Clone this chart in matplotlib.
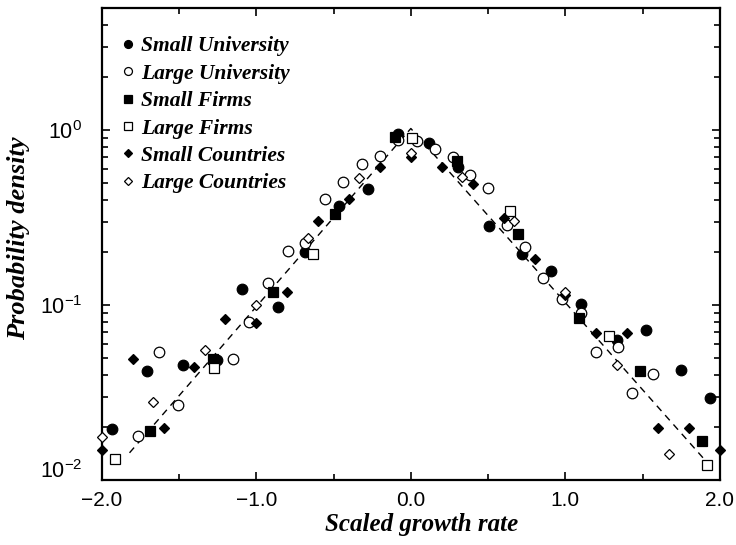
import math
import matplotlib
matplotlib.use("Agg")
import matplotlib.pyplot as plt
from matplotlib.ticker import LogLocator, FixedLocator, FuncFormatter, NullFormatter

plt.rcParams['mathtext.fontset'] = 'custom'
plt.rcParams['mathtext.rm'] = 'Liberation Sans'
plt.rcParams['mathtext.it'] = 'Liberation Sans:italic'

# ---------------- data ----------------
su_x = [-1.935, -1.708, -1.472, -1.256, -1.094, -0.862, -0.684, -0.462, -0.275, -0.085,
        0.120, 0.303, 0.508, 0.717, 0.907, 1.098, 1.332, 1.521, 1.746, 1.935]
su_y = [0.0195, 0.0421, 0.0452, 0.0485, 0.123, 0.0975, 0.200, 0.368, 0.460, 0.949,
        0.839, 0.617, 0.283, 0.196, 0.156, 0.101, 0.0633, 0.0715, 0.0425, 0.0295]

lu_x = [-1.767, -1.627, -1.504, -1.148, -1.045, -0.922, -0.796, -0.684, -0.555, -0.440,
        -0.314, -0.199, -0.081, 0.038, 0.157, 0.271, 0.383, 0.501, 0.620, 0.739,
        0.857, 0.976, 1.101, 1.196, 1.342, 1.429, 1.565]
lu_y = [0.0179, 0.0537, 0.0268, 0.0489, 0.0803, 0.134, 0.204, 0.227, 0.403, 0.507,
        0.641, 0.715, 0.877, 0.869, 0.774, 0.704, 0.553, 0.464, 0.287, 0.215,
        0.143, 0.108, 0.0897, 0.0537, 0.0578, 0.0313, 0.0403]

sf_x = [-1.687, -1.281, -0.893, -0.490, -0.102, 0.300, 0.691, 1.090, 1.483, 1.885]
sf_y = [0.0191, 0.0489, 0.118, 0.331, 0.916, 0.663, 0.255, 0.0839, 0.0420, 0.0168]

lf_x = [-1.913, -1.273, -0.635, 0.006, 0.642, 1.280, 1.914]
lf_y = [0.0131, 0.0435, 0.196, 0.906, 0.344, 0.0665, 0.0122]

sc_x = [-2.0, -1.8, -1.6, -1.4, -1.2, -1.0, -0.8, -0.6, -0.4, -0.2, 0.0,
        0.2, 0.4, 0.6, 0.8, 1.0, 1.2, 1.4, 1.6, 1.8, 2.0]
sc_y = [0.0148, 0.0489, 0.0197, 0.0441, 0.0834, 0.0786, 0.118, 0.303, 0.403, 0.612, 0.705,
        0.617, 0.490, 0.313, 0.182, 0.114, 0.0689, 0.0689, 0.0197, 0.0197, 0.0148]

lc_x = [-2.0, -1.667, -1.333, -1.0, -0.667, -0.333, 0.0, 0.333, 0.667, 1.0, 1.333, 1.667]
lc_y = [0.0175, 0.0278, 0.0553, 0.100, 0.242, 0.530, 0.736, 0.537, 0.302, 0.118, 0.0454, 0.0140]

fit_x = [-1.82, 0.0, 1.92]
fit_y = [0.0143, 1.02, 0.0125]

labels = ["Small University", "Large University", "Small Firms",
          "Large Firms", "Small Countries", "Large Countries"]
xtick_vals = [-2.0, -1.0, 0.0, 1.0, 2.0]
ytick_vals = [0.01, 0.1, 1.0]

# ---------------- figure ----------------
fig = plt.figure(figsize=(7.36, 5.45), dpi=100)
ax = fig.add_axes([101.7/736, 1-480/545, (720-101.7)/736, (480-8.3)/545])

ax.plot(fit_x, fit_y, color='black', lw=1.0, ls=(0, (5, 4)), zorder=1)

mk = dict(ls='none', mec='black', mew=0.9, clip_on=False, zorder=3)
h1, = ax.plot(su_x, su_y, marker='o', ms=7.6, mfc='black', **mk)
h2, = ax.plot(lu_x, lu_y, marker='o', ms=7.6, mfc='white', **mk)
h3, = ax.plot(sf_x, sf_y, marker='s', ms=7.0, mfc='black', **mk)
h4, = ax.plot(lf_x, lf_y, marker='s', ms=7.0, mfc='white', **mk)
h5, = ax.plot(sc_x, sc_y, marker='D', ms=5.3, mfc='black', **mk)
h6, = ax.plot(lc_x, lc_y, marker='D', ms=5.3, mfc='white', **mk)

ax.set_yscale('log')
ax.set_xlim(-2.0, 2.0)
ax.set_ylim(0.01, 4.96)

def ylab(v):
    return r"$\mathregular{10^{%d}}$" % round(math.log10(v))

ax.xaxis.set_major_locator(FixedLocator(xtick_vals))
ax.xaxis.set_minor_locator(FixedLocator([-1.5, -0.5, 0.5, 1.5]))
ax.xaxis.set_major_formatter(FuncFormatter(lambda v, p: f"{v:.1f}".replace('-', '\u2212')))
ax.yaxis.set_major_locator(FixedLocator(ytick_vals))
ax.yaxis.set_minor_locator(LogLocator(base=10, subs=range(2, 10), numticks=20))
ax.yaxis.set_minor_formatter(NullFormatter())
# the lowest label is drawn raised above its tick (as in the reference)
ax.yaxis.set_major_formatter(FuncFormatter(
    lambda v, p: "" if v < 0.05 else ylab(v)))

ax.tick_params(which='both', direction='in', top=True, right=True, width=1.2)
ax.tick_params(which='major', length=6)
ax.tick_params(which='minor', length=4)
ax.tick_params(axis='x', which='major', pad=8, labelsize=15)
ax.tick_params(axis='y', which='major', pad=14, labelsize=15.5)
for lab in ax.get_xticklabels() + ax.get_yticklabels():
    lab.set_fontfamily('Liberation Sans')
for s in ax.spines.values():
    s.set_linewidth(1.6)

ax.annotate(ylab(ytick_vals[0]), xy=(0, ytick_vals[0]), xycoords=('axes fraction', 'data'),
            xytext=(-14, 8), textcoords='offset points', ha='right', va='center_baseline',
            fontsize=15.5, family='Liberation Sans', annotation_clip=False)

lab_font = dict(family='Liberation Serif', weight='bold', style='italic')
fig.text(422/736, 1-525/545, "Scaled growth rate", ha='center', va='center',
         size=18, **lab_font)
fig.text(19/736, 1-238/545, "Probability density", ha='center', va='center',
         rotation=90, size=19, **lab_font)

leg = ax.legend([h1, h2, h3, h4, h5, h6], labels, loc='upper left',
                bbox_to_anchor=(-0.017, 1.0), frameon=False, markerscale=0.75,
                handlelength=0.8, handletextpad=0.22, labelspacing=0.34,
                borderaxespad=0.9, borderpad=0.4,
                prop=dict(family='Liberation Serif', weight='bold', style='italic', size=15.5))

fig.savefig("out.png", dpi=100)
